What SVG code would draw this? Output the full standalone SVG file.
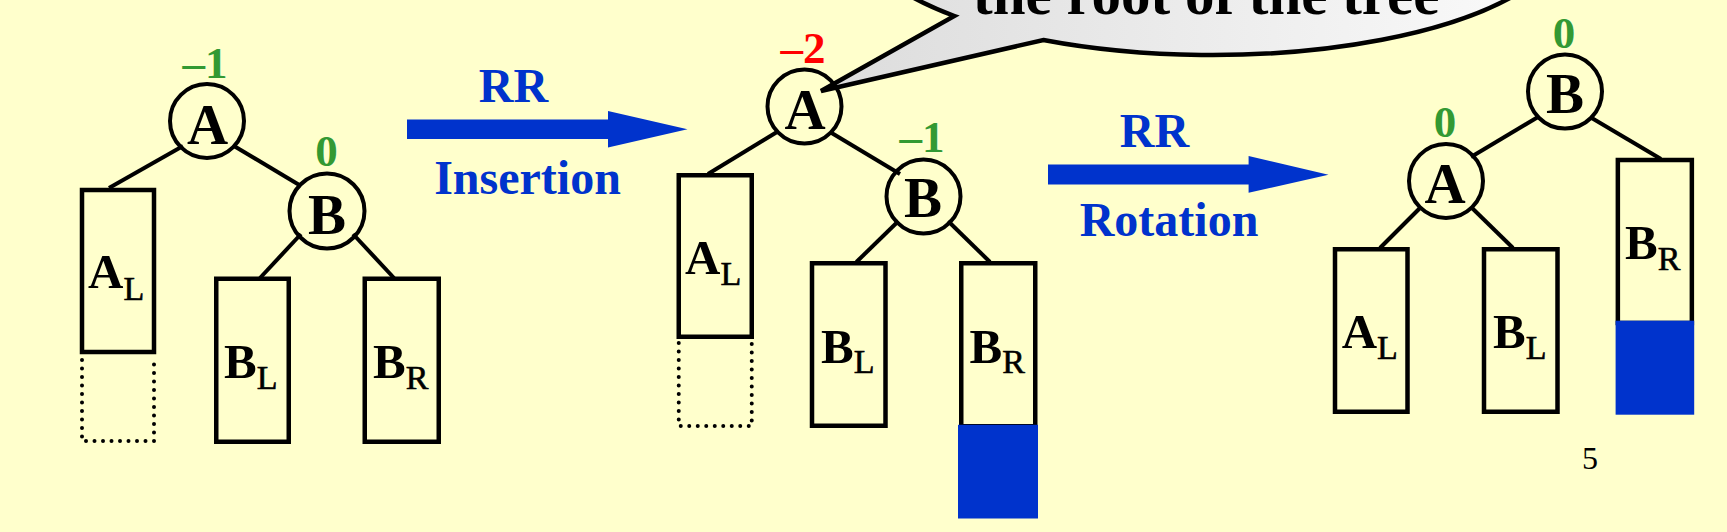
<svg xmlns="http://www.w3.org/2000/svg" width="1727" height="532" viewBox="0 0 1727 532">
<style>
.bg{fill:#FFFFCC}
.node{fill:none;stroke:#000;stroke-width:4}
.box{fill:none;stroke:#000;stroke-width:4.5}
.dot{fill:none;stroke:#000;stroke-width:4;stroke-dasharray:0 8.5;stroke-linecap:round}
.edge{stroke:#000;stroke-width:4;fill:none}
.fillb{fill:#0033CC}
.nl{font-family:"Liberation Serif","Times New Roman",serif;font-weight:bold;font-size:57px;text-anchor:middle;fill:#000}
.bl{font-family:"Liberation Serif","Times New Roman",serif;font-weight:bold;font-size:49px;fill:#000}
.sub{font-weight:normal;font-size:34px;stroke:#000;stroke-width:0.6}
.bf{font-family:"Liberation Serif","Times New Roman",serif;font-weight:bold;font-size:45px;text-anchor:middle}
.g{fill:#339933}
.r{fill:#FF0000}
.op{font-family:"Liberation Serif","Times New Roman",serif;font-weight:bold;font-size:48px;text-anchor:middle;fill:#0033CC}
</style>
<defs>
<linearGradient id="bub" gradientUnits="userSpaceOnUse" x1="820" y1="0" x2="1560" y2="0">
<stop offset="0" stop-color="#dcdcdc"/>
<stop offset="1" stop-color="#fbfbfb"/>
</linearGradient>
</defs>
<rect class="bg" x="0" y="0" width="1727" height="532"/>

<g id="callout">
<path d="M1043.4,40 A355,125 0 1,0 954.4,16 L821,91 Z" fill="url(#bub)" stroke="#000" stroke-width="4.5" stroke-linejoin="miter"/>
<text x="973" y="14" font-family="'Liberation Serif','Times New Roman',serif" font-weight="bold" font-size="59px" fill="#000">the root of the tree</text>
</g>

<g id="connectors">
<line class="edge" x1="183" y1="146" x2="109" y2="188"/>
<line class="edge" x1="234" y1="146" x2="301" y2="186"/>
<line class="edge" x1="301" y1="234" x2="260" y2="278"/>
<line class="edge" x1="353" y1="234" x2="394" y2="278"/>
<line class="edge" x1="777" y1="132" x2="708" y2="174"/>
<line class="edge" x1="830" y1="132" x2="900" y2="174"/>
<line class="edge" x1="898.5" y1="221" x2="856.4" y2="262"/>
<line class="edge" x1="948" y1="221" x2="990" y2="262"/>
<line class="edge" x1="1538" y1="117" x2="1471" y2="157"/>
<line class="edge" x1="1590" y1="117" x2="1661" y2="159"/>
<line class="edge" x1="1421" y1="207" x2="1380" y2="248"/>
<line class="edge" x1="1471" y1="207" x2="1513" y2="248"/>
</g>

<g id="t1-A">
<circle class="node" cx="207" cy="121" r="37"/>
<text class="nl" x="207.5" y="144">A</text>
<text class="bf g" x="205" y="78">–1</text>
</g>
<g id="t1-B">
<circle class="node" cx="327" cy="211" r="37.5"/>
<text class="nl" x="327" y="233.5">B</text>
<text class="bf g" x="326.5" y="166">0</text>
</g>
<g id="t1-AL">
<rect class="box" x="82" y="190" width="72" height="162"/>
<path class="dot" d="M82,360 V441 H154 V360"/>
<text class="bl" x="88" y="288">A<tspan class="sub" dy="12">L</tspan></text>
</g>
<g id="t1-BL">
<rect class="box" x="216.25" y="278.75" width="72.5" height="163"/>
<text class="bl" x="224" y="378">B<tspan class="sub" dy="11">L</tspan></text>
</g>
<g id="t1-BR">
<rect class="box" x="364.75" y="278.75" width="74" height="163"/>
<text class="bl" x="373" y="378">B<tspan class="sub" dy="11">R</tspan></text>
</g>

<g id="arrow-insertion">
<polygon class="fillb" points="407,119.5 608,119.5 608,111 687.5,129.3 608,147.6 608,139 407,139"/>
<text class="op" x="513.5" y="102">RR</text>
<text class="op" x="527.5" y="193.5">Insertion</text>
</g>

<g id="t2-A">
<circle class="node" cx="804.5" cy="106.5" r="37"/>
<text class="nl" x="805" y="129">A</text>
<text class="bf r" x="803" y="63">–2</text>
</g>
<g id="t2-B">
<circle class="node" cx="923.5" cy="196.5" r="37"/>
<text class="nl" x="923" y="217">B</text>
<text class="bf g" x="922" y="152">–1</text>
</g>
<g id="t2-AL">
<rect class="box" x="678.75" y="175.25" width="73" height="161.5"/>
<path class="dot" d="M678.75,343 V426 H751.75 V343"/>
<text class="bl" x="685" y="274">A<tspan class="sub" dy="11">L</tspan></text>
</g>
<g id="t2-BL">
<rect class="box" x="812" y="263.25" width="73.5" height="162.5"/>
<text class="bl" x="821" y="363">B<tspan class="sub" dy="10">L</tspan></text>
</g>
<g id="t2-BR">
<rect class="box" x="961.25" y="263.25" width="74" height="163"/>
<rect class="fillb" x="958" y="424.8" width="80" height="93.7"/>
<text class="bl" x="969.5" y="363">B<tspan class="sub" dy="10">R</tspan></text>
</g>

<g id="arrow-rotation">
<polygon class="fillb" points="1048,164.6 1248.6,164.6 1248.6,156 1328.5,174.7 1248.6,192.7 1248.6,184.5 1048,184.5"/>
<text class="op" x="1154.5" y="146.5">RR</text>
<text class="op" x="1169" y="236">Rotation</text>
</g>

<g id="t3-B">
<circle class="node" cx="1565" cy="91.6" r="37"/>
<text class="nl" x="1565" y="113">B</text>
<text class="bf g" x="1564" y="47.5">0</text>
</g>
<g id="t3-A">
<circle class="node" cx="1446" cy="181" r="37"/>
<text class="nl" x="1445" y="203">A</text>
<text class="bf g" x="1445" y="137.4">0</text>
</g>
<g id="t3-AL">
<rect class="box" x="1335" y="249.25" width="72.5" height="162.5"/>
<text class="bl" x="1341.7" y="348">A<tspan class="sub" dy="11">L</tspan></text>
</g>
<g id="t3-BL">
<rect class="box" x="1484" y="249.25" width="73.5" height="162.5"/>
<text class="bl" x="1493" y="348">B<tspan class="sub" dy="11">L</tspan></text>
</g>
<g id="t3-BR">
<rect class="box" x="1617.85" y="160" width="74" height="163"/>
<rect class="fillb" x="1615.6" y="320.7" width="78.6" height="94"/>
<text class="bl" x="1625" y="258.6">B<tspan class="sub" dy="11">R</tspan></text>
</g>

<text x="1590" y="469" font-family="'Liberation Serif','Times New Roman',serif" font-size="32px" text-anchor="middle" fill="#000">5</text>
</svg>
